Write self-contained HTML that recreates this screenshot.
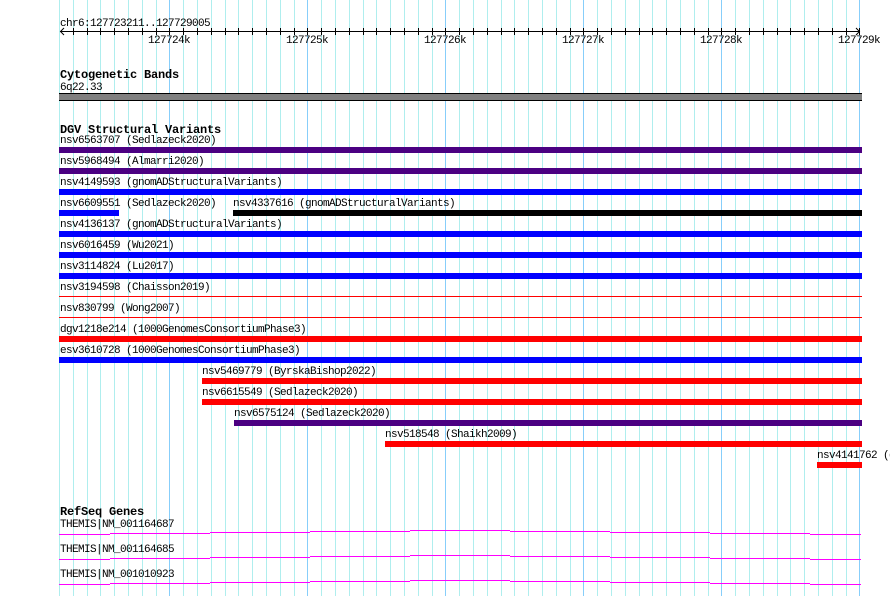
<!DOCTYPE html>
<html>
<head>
<meta charset="utf-8">
<style>
html,body{margin:0;padding:0;background:#fff;}
svg{display:block;}
.t{font-family:"Liberation Mono","DejaVu Sans Mono",monospace;font-size:11px;letter-spacing:-0.6px;fill:#000;}
.b{font-family:"Liberation Mono","DejaVu Sans Mono",monospace;font-size:12px;font-weight:bold;letter-spacing:-0.2px;fill:#000;}
</style>
</head>
<body>
<svg width="890" height="596" viewBox="0 0 890 596" xmlns="http://www.w3.org/2000/svg">
<rect x="0" y="0" width="890" height="596" fill="#fff"/>
<!-- minor grid -->
<path stroke="#afeeee" stroke-width="1" fill="none" d="M59.5 0V596M73.5 0V596M87.5 0V596M100.5 0V596M114.5 0V596M128.5 0V596M142.5 0V596M156.5 0V596M183.5 0V596M197.5 0V596M211.5 0V596M225.5 0V596M238.5 0V596M252.5 0V596M266.5 0V596M280.5 0V596M294.5 0V596M321.5 0V596M335.5 0V596M349.5 0V596M363.5 0V596M376.5 0V596M390.5 0V596M404.5 0V596M418.5 0V596M432.5 0V596M459.5 0V596M473.5 0V596M487.5 0V596M501.5 0V596M514.5 0V596M528.5 0V596M542.5 0V596M556.5 0V596M570.5 0V596M597.5 0V596M611.5 0V596M625.5 0V596M639.5 0V596M652.5 0V596M666.5 0V596M680.5 0V596M694.5 0V596M708.5 0V596M735.5 0V596M749.5 0V596M763.5 0V596M777.5 0V596M790.5 0V596M804.5 0V596M818.5 0V596M832.5 0V596M846.5 0V596"/>
<!-- major grid -->
<path stroke="#87cefa" stroke-width="1" fill="none" d="M169.5 0V596M307.5 0V596M445.5 0V596M583.5 0V596M721.5 0V596M859.5 0V596"/>

<!-- ruler -->
<text class="t" x="60" y="26">chr6:127723211..127729005</text>
<line x1="60" y1="31.5" x2="860" y2="31.5" stroke="#000" stroke-width="1"/>
<polyline points="64,28 60.5,31.5 64,35" fill="none" stroke="#000" stroke-width="1"/>
<polyline points="856,28 859.5,31.5 856,35" fill="none" stroke="#000" stroke-width="1"/>
<path stroke="#000" stroke-width="1" fill="none" d="M73.5 28V35M87.5 28V35M100.5 28V35M114.5 28V35M128.5 28V35M142.5 28V35M156.5 28V35M169.5 28V35M183.5 28V35M197.5 28V35M211.5 28V35M225.5 28V35M238.5 28V35M252.5 28V35M266.5 28V35M280.5 28V35M294.5 28V35M307.5 28V35M321.5 28V35M335.5 28V35M349.5 28V35M363.5 28V35M376.5 28V35M390.5 28V35M404.5 28V35M418.5 28V35M432.5 28V35M445.5 28V35M459.5 28V35M473.5 28V35M487.5 28V35M501.5 28V35M514.5 28V35M528.5 28V35M542.5 28V35M556.5 28V35M570.5 28V35M583.5 28V35M597.5 28V35M611.5 28V35M625.5 28V35M639.5 28V35M652.5 28V35M666.5 28V35M680.5 28V35M694.5 28V35M708.5 28V35M721.5 28V35M735.5 28V35M749.5 28V35M763.5 28V35M777.5 28V35M790.5 28V35M804.5 28V35M818.5 28V35M832.5 28V35M846.5 28V35M859.5 28V35"/>
<text class="t" x="148" y="43">127724k</text>
<text class="t" x="286" y="43">127725k</text>
<text class="t" x="424" y="43">127726k</text>
<text class="t" x="562" y="43">127727k</text>
<text class="t" x="700" y="43">127728k</text>
<text class="t" x="838" y="43">127729k</text>

<!-- cytogenetic bands -->
<text class="b" x="60" y="78">Cytogenetic Bands</text>
<text class="t" x="60" y="90">6q22.33</text>
<rect x="59" y="93" width="803" height="8" fill="#000"/>
<rect x="59" y="94" width="803" height="6" fill="#808080"/>

<!-- DGV -->
<text class="b" x="60" y="133">DGV Structural Variants</text>

<text class="t" x="60" y="143">nsv6563707 (Sedlazeck2020)</text>
<rect x="59" y="147" width="803" height="6" fill="#4b0082"/>

<text class="t" x="60" y="164">nsv5968494 (Almarri2020)</text>
<rect x="59" y="168" width="803" height="6" fill="#4b0082"/>

<text class="t" x="60" y="185">nsv4149593 (gnomADStructuralVariants)</text>
<rect x="59" y="189" width="803" height="6" fill="#0000ff"/>

<text class="t" x="60" y="206">nsv6609551 (Sedlazeck2020)</text>
<rect x="59" y="210" width="60" height="6" fill="#0000ff"/>
<text class="t" x="233" y="206">nsv4337616 (gnomADStructuralVariants)</text>
<rect x="233" y="210" width="629" height="6" fill="#000"/>

<text class="t" x="60" y="227">nsv4136137 (gnomADStructuralVariants)</text>
<rect x="59" y="231" width="803" height="6" fill="#0000ff"/>

<text class="t" x="60" y="248">nsv6016459 (Wu2021)</text>
<rect x="59" y="252" width="803" height="6" fill="#0000ff"/>

<text class="t" x="60" y="269">nsv3114824 (Lu2017)</text>
<rect x="59" y="273" width="803" height="6" fill="#0000ff"/>

<text class="t" x="60" y="290">nsv3194598 (Chaisson2019)</text>
<rect x="59" y="296" width="803" height="1" fill="#ff0000"/>

<text class="t" x="60" y="311">nsv830799 (Wong2007)</text>
<rect x="59" y="317" width="803" height="1" fill="#ff0000"/>

<text class="t" x="60" y="332">dgv1218e214 (1000GenomesConsortiumPhase3)</text>
<rect x="59" y="336" width="803" height="6" fill="#ff0000"/>

<text class="t" x="60" y="353">esv3610728 (1000GenomesConsortiumPhase3)</text>
<rect x="59" y="357" width="803" height="6" fill="#0000ff"/>

<text class="t" x="202" y="374">nsv5469779 (ByrskaBishop2022)</text>
<rect x="202" y="378" width="660" height="6" fill="#ff0000"/>

<text class="t" x="202" y="395">nsv6615549 (Sedlazeck2020)</text>
<rect x="202" y="399" width="660" height="6" fill="#ff0000"/>

<text class="t" x="234" y="416">nsv6575124 (Sedlazeck2020)</text>
<rect x="234" y="420" width="628" height="6" fill="#4b0082"/>

<text class="t" x="385" y="437">nsv518548 (Shaikh2009)</text>
<rect x="385" y="441" width="477" height="6" fill="#ff0000"/>

<text class="t" x="817" y="458">nsv4141762 (gnomADStructuralVariants)</text>
<rect x="817" y="462" width="45" height="6" fill="#ff0000"/>

<!-- RefSeq -->
<text class="b" x="60" y="515">RefSeq Genes</text>
<text class="t" x="60" y="527">THEMIS|NM_001164687</text>
<text class="t" x="60" y="552">THEMIS|NM_001164685</text>
<text class="t" x="60" y="577">THEMIS|NM_001010923</text>
<g fill="#ff00ff">
<rect x="59" y="534" width="51" height="1"/><rect x="110" y="533" width="100" height="1"/><rect x="210" y="532" width="100" height="1"/><rect x="310" y="531" width="100" height="1"/><rect x="410" y="530" width="100" height="1"/><rect x="510" y="531" width="100" height="1"/><rect x="610" y="532" width="100" height="1"/><rect x="710" y="533" width="100" height="1"/><rect x="810" y="534" width="51" height="1"/>
<rect x="59" y="559" width="51" height="1"/><rect x="110" y="558" width="100" height="1"/><rect x="210" y="557" width="100" height="1"/><rect x="310" y="556" width="100" height="1"/><rect x="410" y="555" width="100" height="1"/><rect x="510" y="556" width="100" height="1"/><rect x="610" y="557" width="100" height="1"/><rect x="710" y="558" width="100" height="1"/><rect x="810" y="559" width="51" height="1"/>
<rect x="59" y="584" width="51" height="1"/><rect x="110" y="583" width="100" height="1"/><rect x="210" y="582" width="100" height="1"/><rect x="310" y="581" width="100" height="1"/><rect x="410" y="580" width="100" height="1"/><rect x="510" y="581" width="100" height="1"/><rect x="610" y="582" width="100" height="1"/><rect x="710" y="583" width="100" height="1"/><rect x="810" y="584" width="51" height="1"/>
</g>
</svg>
</body>
</html>
